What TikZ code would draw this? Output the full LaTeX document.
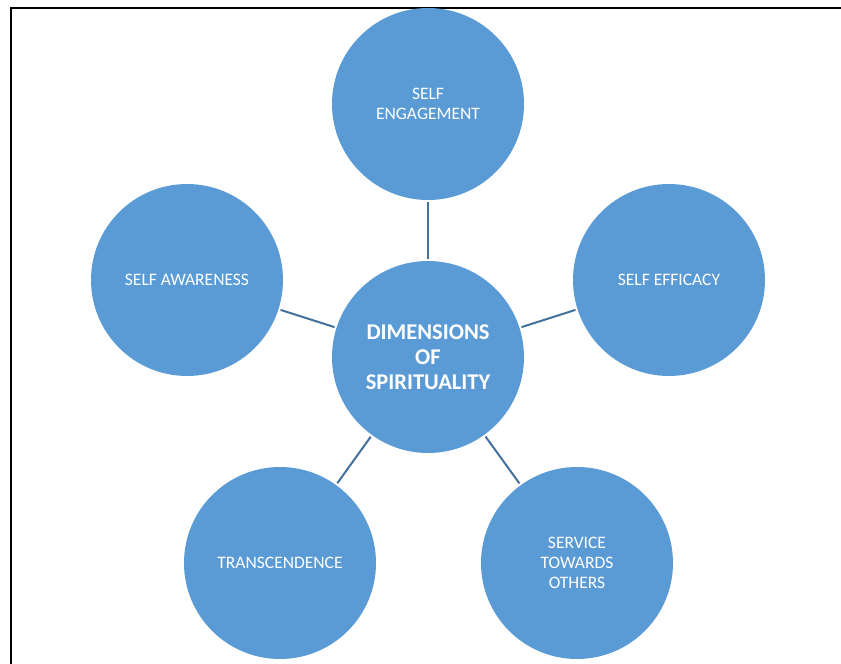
\documentclass[tikz,border=0pt]{standalone}
\usepackage{fontspec}
\setmainfont{Carlito}
\usepackage{tikz}
\usetikzlibrary{positioning}
\definecolor{dimfill}{HTML}{5B9BD5}
\definecolor{dimline}{HTML}{41719C}

\begin{document}
\begin{tikzpicture}[x=1pt,y=-1pt,
  dim/.style={circle,fill=dimfill,minimum size=192pt,inner sep=0pt,
    text=white,align=center,font=\fontsize{17.5}{20}\selectfont},
  hub/.style={dim,font=\fontsize{22.5}{25}\selectfont\bfseries},
  link/.style={dimline,line width=2pt,shorten <=2pt,shorten >=2pt}]
\useasboundingbox (0,0) rectangle (841,664);
% frame
\draw [line width=2pt] (11,664) -- (11,8) -- (842,8);
% circles
\node[hub] (centre) at (428,357) {DIMENSIONS\\OF\\SPIRITUALITY};
\node[dim] (engage) at (428,104) {SELF\\ENGAGEMENT};
\node[dim] (efficacy) at (669,280) {SELF EFFICACY};
\node[dim] (aware) at (187,280) {SELF AWARENESS};
\node[dim] (transc) at (280,563) {TRANSCENDENCE};
\node[dim] (service) at (577,563) {SERVICE\\TOWARDS\\OTHERS};
% spokes
\foreach \n in {engage,efficacy,aware,transc,service}
  \draw [link] (centre) -- (\n);
\end{tikzpicture}
\end{document}
